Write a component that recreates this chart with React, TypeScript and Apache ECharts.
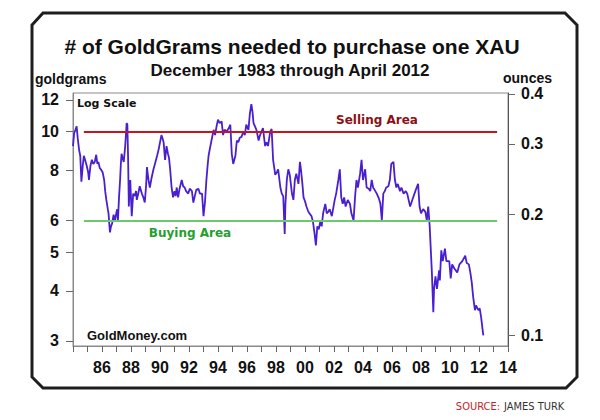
import React, { useEffect, useRef } from 'react';
import * as echarts from 'echarts';

// decimal years and goldgrams needed for one XAU
const years = [
  1984.0, 1984.08, 1984.17, 1984.25, 1984.33, 1984.42, 1984.5, 1984.58, 1984.67, 1984.75,
  1984.83, 1984.95, 1985.05, 1985.1, 1985.2, 1985.3, 1985.4, 1985.5, 1985.6, 1985.68,
  1985.75, 1985.85, 1985.92, 1986.05, 1986.15, 1986.22, 1986.3, 1986.4, 1986.45, 1986.5,
  1986.55, 1986.62, 1986.7, 1986.8, 1986.9, 1987.0, 1987.05, 1987.1, 1987.17, 1987.25,
  1987.3, 1987.35, 1987.45, 1987.5, 1987.6, 1987.65, 1987.7, 1987.75, 1987.8, 1987.85,
  1987.9, 1987.95, 1988.0, 1988.05, 1988.15, 1988.25, 1988.35, 1988.4, 1988.5, 1988.6,
  1988.7, 1988.75, 1988.85, 1988.95, 1989.05, 1989.1, 1989.2, 1989.3, 1989.4, 1989.55,
  1989.65, 1989.8, 1989.9, 1990.0, 1990.1, 1990.18, 1990.25, 1990.35, 1990.45, 1990.55,
  1990.62, 1990.7, 1990.8, 1990.9, 1991.0, 1991.08, 1991.15, 1991.25, 1991.35, 1991.5,
  1991.6, 1991.7, 1991.8, 1991.95, 1992.05, 1992.2, 1992.3, 1992.4, 1992.5, 1992.65,
  1992.75, 1992.9, 1993.0, 1993.1, 1993.2, 1993.28, 1993.35, 1993.45, 1993.55, 1993.7,
  1993.8, 1993.9, 1994.0, 1994.12, 1994.25, 1994.35, 1994.45, 1994.6, 1994.75, 1994.85,
  1994.95, 1995.05, 1995.2, 1995.3, 1995.4, 1995.5, 1995.62, 1995.75, 1995.85, 1995.95,
  1996.1, 1996.2, 1996.3, 1996.38, 1996.45, 1996.55, 1996.65, 1996.8, 1996.9, 1997.0,
  1997.1, 1997.25, 1997.35, 1997.45, 1997.6, 1997.7, 1997.8, 1997.95, 1998.05, 1998.15,
  1998.3, 1998.4, 1998.5, 1998.6, 1998.65, 1998.75, 1998.85, 1998.95, 1999.1, 1999.2,
  1999.3, 1999.4, 1999.55, 1999.65, 1999.72, 1999.82, 1999.9, 2000.0, 2000.1, 2000.2,
  2000.3, 2000.45, 2000.55, 2000.65, 2000.75, 2000.85, 2000.95, 2001.05, 2001.15, 2001.25,
  2001.4, 2001.5, 2001.6, 2001.7, 2001.85, 2002.05, 2002.15, 2002.3, 2002.4, 2002.5,
  2002.6, 2002.7, 2002.8, 2002.95, 2003.1, 2003.2, 2003.35, 2003.45, 2003.55, 2003.65,
  2003.8, 2003.9, 2004.0, 2004.15, 2004.25, 2004.4, 2004.5, 2004.6, 2004.7, 2004.8,
  2004.95, 2005.1, 2005.2, 2005.3, 2005.4, 2005.5, 2005.6, 2005.75, 2005.85, 2005.95,
  2006.1, 2006.2, 2006.3, 2006.4, 2006.55, 2006.65, 2006.8, 2006.95, 2007.05, 2007.25,
  2007.4, 2007.55, 2007.7, 2007.8, 2007.9, 2008.0, 2008.15, 2008.3, 2008.4, 2008.5,
  2008.6, 2008.65, 2008.75, 2008.85, 2008.9, 2009.0, 2009.1, 2009.25, 2009.3, 2009.4,
  2009.5, 2009.65, 2009.75, 2009.95, 2010.05, 2010.15, 2010.3, 2010.5, 2010.65, 2010.85,
  2011.05, 2011.15, 2011.3, 2011.4, 2011.5, 2011.6, 2011.72, 2011.8, 2011.95, 2012.05,
  2012.15, 2012.25, 2012.3,
];

const goldgrams = [
  9.2, 9.9, 10.1, 10.3, 9.6, 9.0, 8.7, 7.5, 8.2, 8.7,
  8.5, 8.2, 7.9, 7.57, 8.2, 8.5, 8.3, 8.4, 8.75, 8.3,
  8.4, 8.1, 8.05, 7.9, 7.57, 7.1, 6.75, 6.4, 6.25, 5.9,
  5.6, 5.8, 5.9, 6.2, 6.0, 6.3, 6.4, 6.0, 6.8, 7.6,
  8.3, 8.8, 8.5, 8.4, 9.2, 9.8, 10.5, 10.4, 8.6, 6.5,
  7.2, 7.57, 6.8, 6.15, 7.0, 6.9, 7.1, 6.75, 7.0, 7.3,
  7.1, 7.0, 6.85, 6.65, 7.4, 8.15, 7.6, 7.25, 7.6, 8.05,
  8.3, 8.7, 9.0, 9.4, 9.8, 9.6, 9.4, 8.5, 9.2, 8.8,
  8.6, 8.05, 7.25, 6.85, 7.1, 6.9, 7.25, 6.85, 7.2, 7.57,
  7.3, 7.25, 7.1, 7.0, 7.2, 7.1, 6.65, 6.9, 7.15, 7.2,
  7.0, 7.0, 6.15, 6.65, 7.57, 8.2, 8.7, 9.1, 9.5, 10.1,
  9.8, 10.3, 10.7, 10.5, 10.6, 9.8, 10.1, 10.0, 10.2, 10.4,
  8.8, 8.3, 8.7, 9.5, 9.4, 9.65, 9.7, 10.0, 9.8, 10.4,
  10.1, 11.1, 11.7, 11.2, 10.5, 10.3, 10.1, 9.5, 9.8, 10.0,
  10.2, 9.2, 9.4, 9.2, 10.0, 10.15, 8.5, 7.8, 7.9, 8.05,
  7.25, 7.0, 6.9, 5.55, 6.6, 7.6, 8.05, 7.8, 7.0, 6.75,
  7.57, 7.85, 7.4, 8.4, 8.05, 7.4, 6.85, 6.7, 6.5, 6.35,
  6.25, 6.15, 5.95, 5.6, 5.2, 5.8, 5.7, 5.95, 5.8, 6.25,
  6.6, 6.25, 6.3, 6.4, 6.15, 6.75, 7.0, 7.57, 8.05, 6.85,
  6.6, 6.85, 6.5, 6.75, 6.6, 6.25, 6.0, 6.85, 7.57, 7.25,
  7.85, 8.5, 7.57, 8.05, 7.25, 7.2, 7.1, 7.57, 7.25, 7.15,
  7.0, 6.8, 6.6, 6.0, 7.0, 7.1, 7.25, 7.3, 7.57, 8.3,
  8.4, 7.57, 7.25, 7.4, 7.1, 7.25, 7.0, 7.1, 7.0, 6.5,
  6.75, 7.0, 7.25, 7.4, 6.5, 6.25, 6.4, 6.3, 6.0, 6.5,
  5.8, 5.3, 4.45, 3.54, 4.05, 4.35, 4.05, 4.5, 4.25, 5.05,
  4.75, 5.1, 4.75, 4.75, 4.3, 4.66, 4.55, 4.45, 4.66, 4.75,
  4.9, 4.7, 4.66, 4.45, 4.2, 3.86, 3.58, 3.68, 3.58, 3.62,
  3.43, 3.2, 3.1,
];

const leftTicks = [3, 4, 5, 6, 8, 10, 12];
const rightTicks = [0.1, 0.2, 0.3, 0.4];
const sellingLevel = 10;
const buyingLevel = 6;
const areaStart = 1984.75;
const areaEnd = 2013.25;

const App: React.FC = () => {
  const chartRef = useRef<HTMLDivElement>(null);

  useEffect(() => {
    if (!chartRef.current) return;
    const chart = echarts.init(chartRef.current, null, { renderer: 'svg' });

    const axisLabelStyle = {
      color: '#111',
      fontWeight: 'bold' as const,
      fontSize: 16,
      fontFamily: '"Liberation Sans", Arial, sans-serif',
    };

    const option: any = {
      animation: false,
      backgroundColor: '#fff',
      grid: {
        left: 73,
        right: 92,
        top: 93,
        bottom: 74,
        show: true,
        borderColor: '#8a8a8a',
        borderWidth: 1,
      },
      xAxis: {
        type: 'value',
        min: 1984,
        max: 2014,
        interval: 1,
        axisLine: { show: true, lineStyle: { color: '#8a8a8a' } },
        axisTick: { show: true, length: 6, lineStyle: { color: '#666' } },
        splitLine: { show: false },
        axisLabel: {
          ...axisLabelStyle,
          margin: 13,
          formatter: (v: number) =>
            v % 2 === 0 && v !== 1984 ? String(v % 100).padStart(2, '0') : '',
        },
      },
      yAxis: [
        {
          type: 'log',
          min: 2.915,
          max: 12.48,
          position: 'left',
          axisLine: { show: true, lineStyle: { color: '#8a8a8a' } },
          axisTick: { show: true, length: 7, customValues: leftTicks, lineStyle: { color: '#666' } },
          minorTick: { show: false },
          splitLine: { show: false },
          axisLabel: {
            ...axisLabelStyle,
            margin: 14,
            customValues: leftTicks,
            formatter: (v: number) => String(Math.round(v)),
          },
        },
        {
          type: 'log',
          min: 0.0939,
          max: 0.402,
          position: 'right',
          axisLine: { show: true, lineStyle: { color: '#555' } },
          axisTick: { show: true, length: 7, customValues: rightTicks, lineStyle: { color: '#666' } },
          minorTick: { show: false },
          splitLine: { show: false },
          axisLabel: {
            ...axisLabelStyle,
            margin: 13,
            customValues: rightTicks,
            formatter: (v: number) => v.toFixed(1),
          },
        },
      ],
      series: [
        {
          type: 'line',
          data: [],
          z: 1,
          silent: true,
          markLine: {
            silent: true,
            symbol: 'none',
            label: { show: false },
            data: [
              [
                { coord: [areaStart, sellingLevel], lineStyle: { color: '#c8141c', width: 2, type: 'solid' } },
                { coord: [areaEnd, sellingLevel] },
              ],
              [
                { coord: [areaStart, buyingLevel], lineStyle: { color: '#6cc96c', width: 2, type: 'solid' } },
                { coord: [areaEnd, buyingLevel] },
              ],
            ],
          },
        },
        {
          type: 'line',
          z: 3,
          showSymbol: false,
          symbol: 'none',
          lineStyle: { color: '#4a1fcf', width: 1.8 },
          data: years.map((y, i) => [y, goldgrams[i]]),
        },
      ],
      graphic: [
        {
          type: 'polygon',
          z: 0,
          shape: {
            points: [
              [32, 25], [43, 13], [565, 13], [577, 25],
              [577, 377], [566, 388], [43, 388], [32, 377],
            ],
          },
          style: { fill: 'none', stroke: '#1e1e1e', lineWidth: 3 },
        },
        {
          type: 'text', x: 292, y: 46,
          style: {
            text: '# of GoldGrams needed to purchase one XAU',
            fill: '#111', font: 'bold 21px "Liberation Sans", Arial, sans-serif',
            textAlign: 'center', textVerticalAlign: 'middle',
          },
        },
        {
          type: 'text', x: 290, y: 70,
          style: {
            text: 'December 1983 through April 2012',
            fill: '#111', font: 'bold 17px "Liberation Sans", Arial, sans-serif',
            textAlign: 'center', textVerticalAlign: 'middle',
          },
        },
        {
          type: 'text', x: 35, y: 79,
          style: {
            text: 'goldgrams', fill: '#111',
            font: 'bold 14px "Liberation Sans", Arial, sans-serif',
            textAlign: 'left', textVerticalAlign: 'middle',
          },
        },
        {
          type: 'text', x: 552, y: 78,
          style: {
            text: 'ounces', fill: '#111',
            font: 'bold 14px "Liberation Sans", Arial, sans-serif',
            textAlign: 'right', textVerticalAlign: 'middle',
          },
        },
        {
          type: 'text', x: 77, y: 103,
          style: {
            text: 'Log Scale', fill: '#111',
            font: 'bold 11px "DejaVu Sans", Verdana, sans-serif',
            textAlign: 'left', textVerticalAlign: 'middle',
          },
        },
        {
          type: 'text', x: 377, y: 120,
          style: {
            text: 'Selling Area', fill: '#8c1015',
            font: 'bold 12px "DejaVu Sans", Verdana, sans-serif',
            textAlign: 'center', textVerticalAlign: 'middle',
          },
        },
        {
          type: 'text', x: 190, y: 233,
          style: {
            text: 'Buying Area', fill: '#23a02f',
            font: 'bold 12px "DejaVu Sans", Verdana, sans-serif',
            textAlign: 'center', textVerticalAlign: 'middle',
          },
        },
        {
          type: 'text', x: 87, y: 335,
          style: {
            text: 'GoldMoney.com', fill: '#111',
            font: 'bold 13px "Liberation Sans", Arial, sans-serif',
            textAlign: 'left', textVerticalAlign: 'middle',
          },
        },
        {
          type: 'text', x: 500, y: 406,
          style: {
            text: 'SOURCE:', fill: '#c0272d',
            font: '11px "DejaVu Sans Condensed", "Liberation Sans", sans-serif',
            textAlign: 'right', textVerticalAlign: 'middle',
          },
        },
        {
          type: 'text', x: 504, y: 406,
          style: {
            text: 'JAMES TURK', fill: '#333',
            font: '11px "DejaVu Sans Condensed", "Liberation Sans", sans-serif',
            textAlign: 'left', textVerticalAlign: 'middle',
          },
        },
      ],
    };

    chart.setOption(option);
    return () => {
      chart.dispose();
    };
  }, []);

  return (
    <div
      ref={chartRef}
      style={{ position: 'fixed', left: 0, top: 0, width: '600px', height: '420px', background: '#fff' }}
    />
  );
};

export default App;
